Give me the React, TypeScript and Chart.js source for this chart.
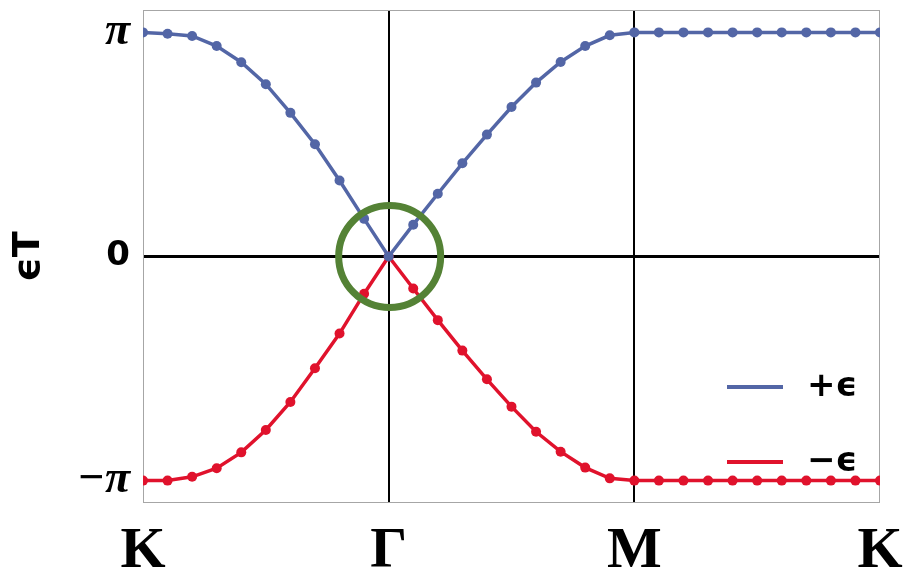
import React, { useEffect, useRef } from "react";
import { Chart, registerables } from "chart.js";

Chart.register(...registerables);

// x positions along the path K → Γ → M → K (31 sample points)
const pathIndex: number[] = Array.from({ length: 31 }, (_, i) => i);

// quasi-energy εT in units of π
const plusEps: number[] = [
  1.0, 0.994, 0.984, 0.939, 0.867, 0.769, 0.641, 0.501, 0.339, 0.168, 0,
  0.142, 0.28, 0.416, 0.544, 0.667, 0.776, 0.868, 0.939, 0.987, 1.0,
  1.0, 1.0, 1.0, 1.0, 1.0, 1.0, 1.0, 1.0, 1.0, 1.0,
];
const minusEps: number[] = [
  -1.0, -1.0, -0.983, -0.945, -0.874, -0.774, -0.649, -0.499, -0.344, -0.166, 0,
  -0.143, -0.284, -0.42, -0.548, -0.67, -0.782, -0.871, -0.942, -0.99, -1.0,
  -1.0, -1.0, -1.0, -1.0, -1.0, -1.0, -1.0, -1.0, -1.0, -1.0,
];

const xTickValues: number[] = [0, 10, 20, 30];
const xTickLabels: string[] = ["K", "Γ", "M", "K"];
const yTickValues: number[] = [-1, 0, 1];
const yTickLabels: string[] = ["−π", "0", "π"];

const seriesLabels: string[] = ["+ϵ", "−ϵ"];
const BLUE = "#5366a6";
const RED = "#e0122c";
const GREEN = "#548235";

const overlayPlugin = {
  id: "overlay",
  beforeDatasetsDraw(chart: any) {
    const { ctx, chartArea } = chart;
    ctx.save();
    ctx.strokeStyle = "#a6a6a6";
    ctx.lineWidth = 1;
    ctx.strokeRect(
      Math.round(chartArea.left) + 0.5,
      Math.round(chartArea.top) + 0.5,
      Math.round(chartArea.right - chartArea.left) - 1,
      Math.round(chartArea.bottom - chartArea.top) - 1
    );
    ctx.restore();
  },
  afterDatasetsDraw(chart: any) {
    const { ctx, scales } = chart;
    const cx = scales.x.getPixelForValue(xTickValues[1]);
    const cy = scales.y.getPixelForValue(0);
    ctx.save();
    ctx.strokeStyle = GREEN;
    ctx.lineWidth = 7;
    ctx.beginPath();
    ctx.arc(cx + 1, cy, 51, 0, Math.PI * 2);
    ctx.stroke();
    ctx.restore();
  },
  afterDraw(chart: any) {
    const { ctx, chartArea } = chart;
    const rows = [chartArea.bottom - 116, chartArea.bottom - 41];
    ctx.save();
    chart.data.datasets.forEach((ds: any, i: number) => {
      const y = rows[i];
      ctx.strokeStyle = ds.borderColor;
      ctx.lineWidth = 4;
      ctx.beginPath();
      ctx.moveTo(chartArea.right - 153, y);
      ctx.lineTo(chartArea.right - 97, y);
      ctx.stroke();
      ctx.fillStyle = "#000";
      ctx.font = "bold 34px 'DejaVu Sans'";
      ctx.textBaseline = "middle";
      ctx.textAlign = "left";
      ctx.fillText(ds.label, chartArea.right - 73, y);
    });
    ctx.restore();
  },
};

export default function App() {
  const canvasRef = useRef<HTMLCanvasElement | null>(null);

  useEffect(() => {
    const canvas = canvasRef.current;
    if (!canvas) return;
    const chart = new Chart(canvas, {
      type: "line",
      data: {
        datasets: [
          {
            label: seriesLabels[0],
            data: pathIndex.map((x, i) => ({ x, y: plusEps[i] })),
            borderColor: BLUE,
            backgroundColor: BLUE,
            pointBackgroundColor: BLUE,
            pointBorderWidth: 0,
            pointRadius: 5,
            borderWidth: 3.5,
            tension: 0,
          },
          {
            label: seriesLabels[1],
            data: pathIndex.map((x, i) => ({ x, y: minusEps[i] })),
            borderColor: RED,
            backgroundColor: RED,
            pointBackgroundColor: RED,
            pointBorderWidth: 0,
            pointRadius: 5,
            borderWidth: 3.5,
            tension: 0,
          },
        ],
      },
      options: {
        animation: false,
        responsive: false,
        layout: { padding: { top: 10, right: 28, left: 0, bottom: 0 } },
        plugins: {
          legend: { display: false },
          tooltip: { enabled: false },
        },
        scales: {
          x: {
            type: "linear",
            min: 0,
            max: 30,
            afterBuildTicks: (scale: any) => {
              scale.ticks = xTickValues.map((v) => ({ value: v }));
            },
            afterFit: (scale: any) => {
              scale.height = 70;
              scale.paddingLeft = 0;
              scale.paddingRight = 0;
            },
            border: { display: false },
            grid: {
              drawTicks: false,
              lineWidth: 2,
              color: (c: any) =>
                c.tick && (c.tick.value === xTickValues[1] || c.tick.value === xTickValues[2])
                  ? "#000"
                  : "rgba(0,0,0,0)",
            },
            ticks: {
              autoSkip: false,
              maxRotation: 0,
              padding: 14,
              color: "#000",
              font: { family: "'Liberation Serif'", size: 58, weight: "bold" },
              callback: (v: any) => xTickLabels[xTickValues.indexOf(Number(v))] ?? "",
            },
          },
          y: {
            type: "linear",
            min: -1.1,
            max: 1.1,
            afterBuildTicks: (scale: any) => {
              scale.ticks = yTickValues.map((v) => ({ value: v }));
            },
            afterFit: (scale: any) => {
              scale.width = 143;
              scale.paddingTop = 0;
              scale.paddingBottom = 0;
            },
            border: { display: false },
            grid: {
              drawTicks: false,
              lineWidth: 3,
              color: (c: any) => (c.tick && c.tick.value === 0 ? "#000" : "rgba(0,0,0,0)"),
            },
            title: {
              display: true,
              text: "ϵT",
              color: "#000",
              padding: { top: 6, bottom: 0 },
              font: { family: "'DejaVu Sans'", size: 38, weight: "bold" },
            },
            ticks: {
              padding: 13,
              color: "#000",
              font: (c: any) =>
                c.tick && c.tick.value === 0
                  ? { family: "'DejaVu Sans'", size: 34, weight: "bold" }
                  : { family: "'Liberation Serif'", size: 46, weight: "bold", style: "italic" },
              callback: (v: any) => yTickLabels[yTickValues.indexOf(Number(v))] ?? "",
            },
          },
        },
      },
      plugins: [overlayPlugin],
    });
    return () => chart.destroy();
  }, []);

  return (
    <div style={{ position: "fixed", left: 0, top: 0, width: 908, height: 573, background: "#fff" }}>
      <canvas ref={canvasRef} width={908} height={573} style={{ display: "block" }} />
    </div>
  );
}
